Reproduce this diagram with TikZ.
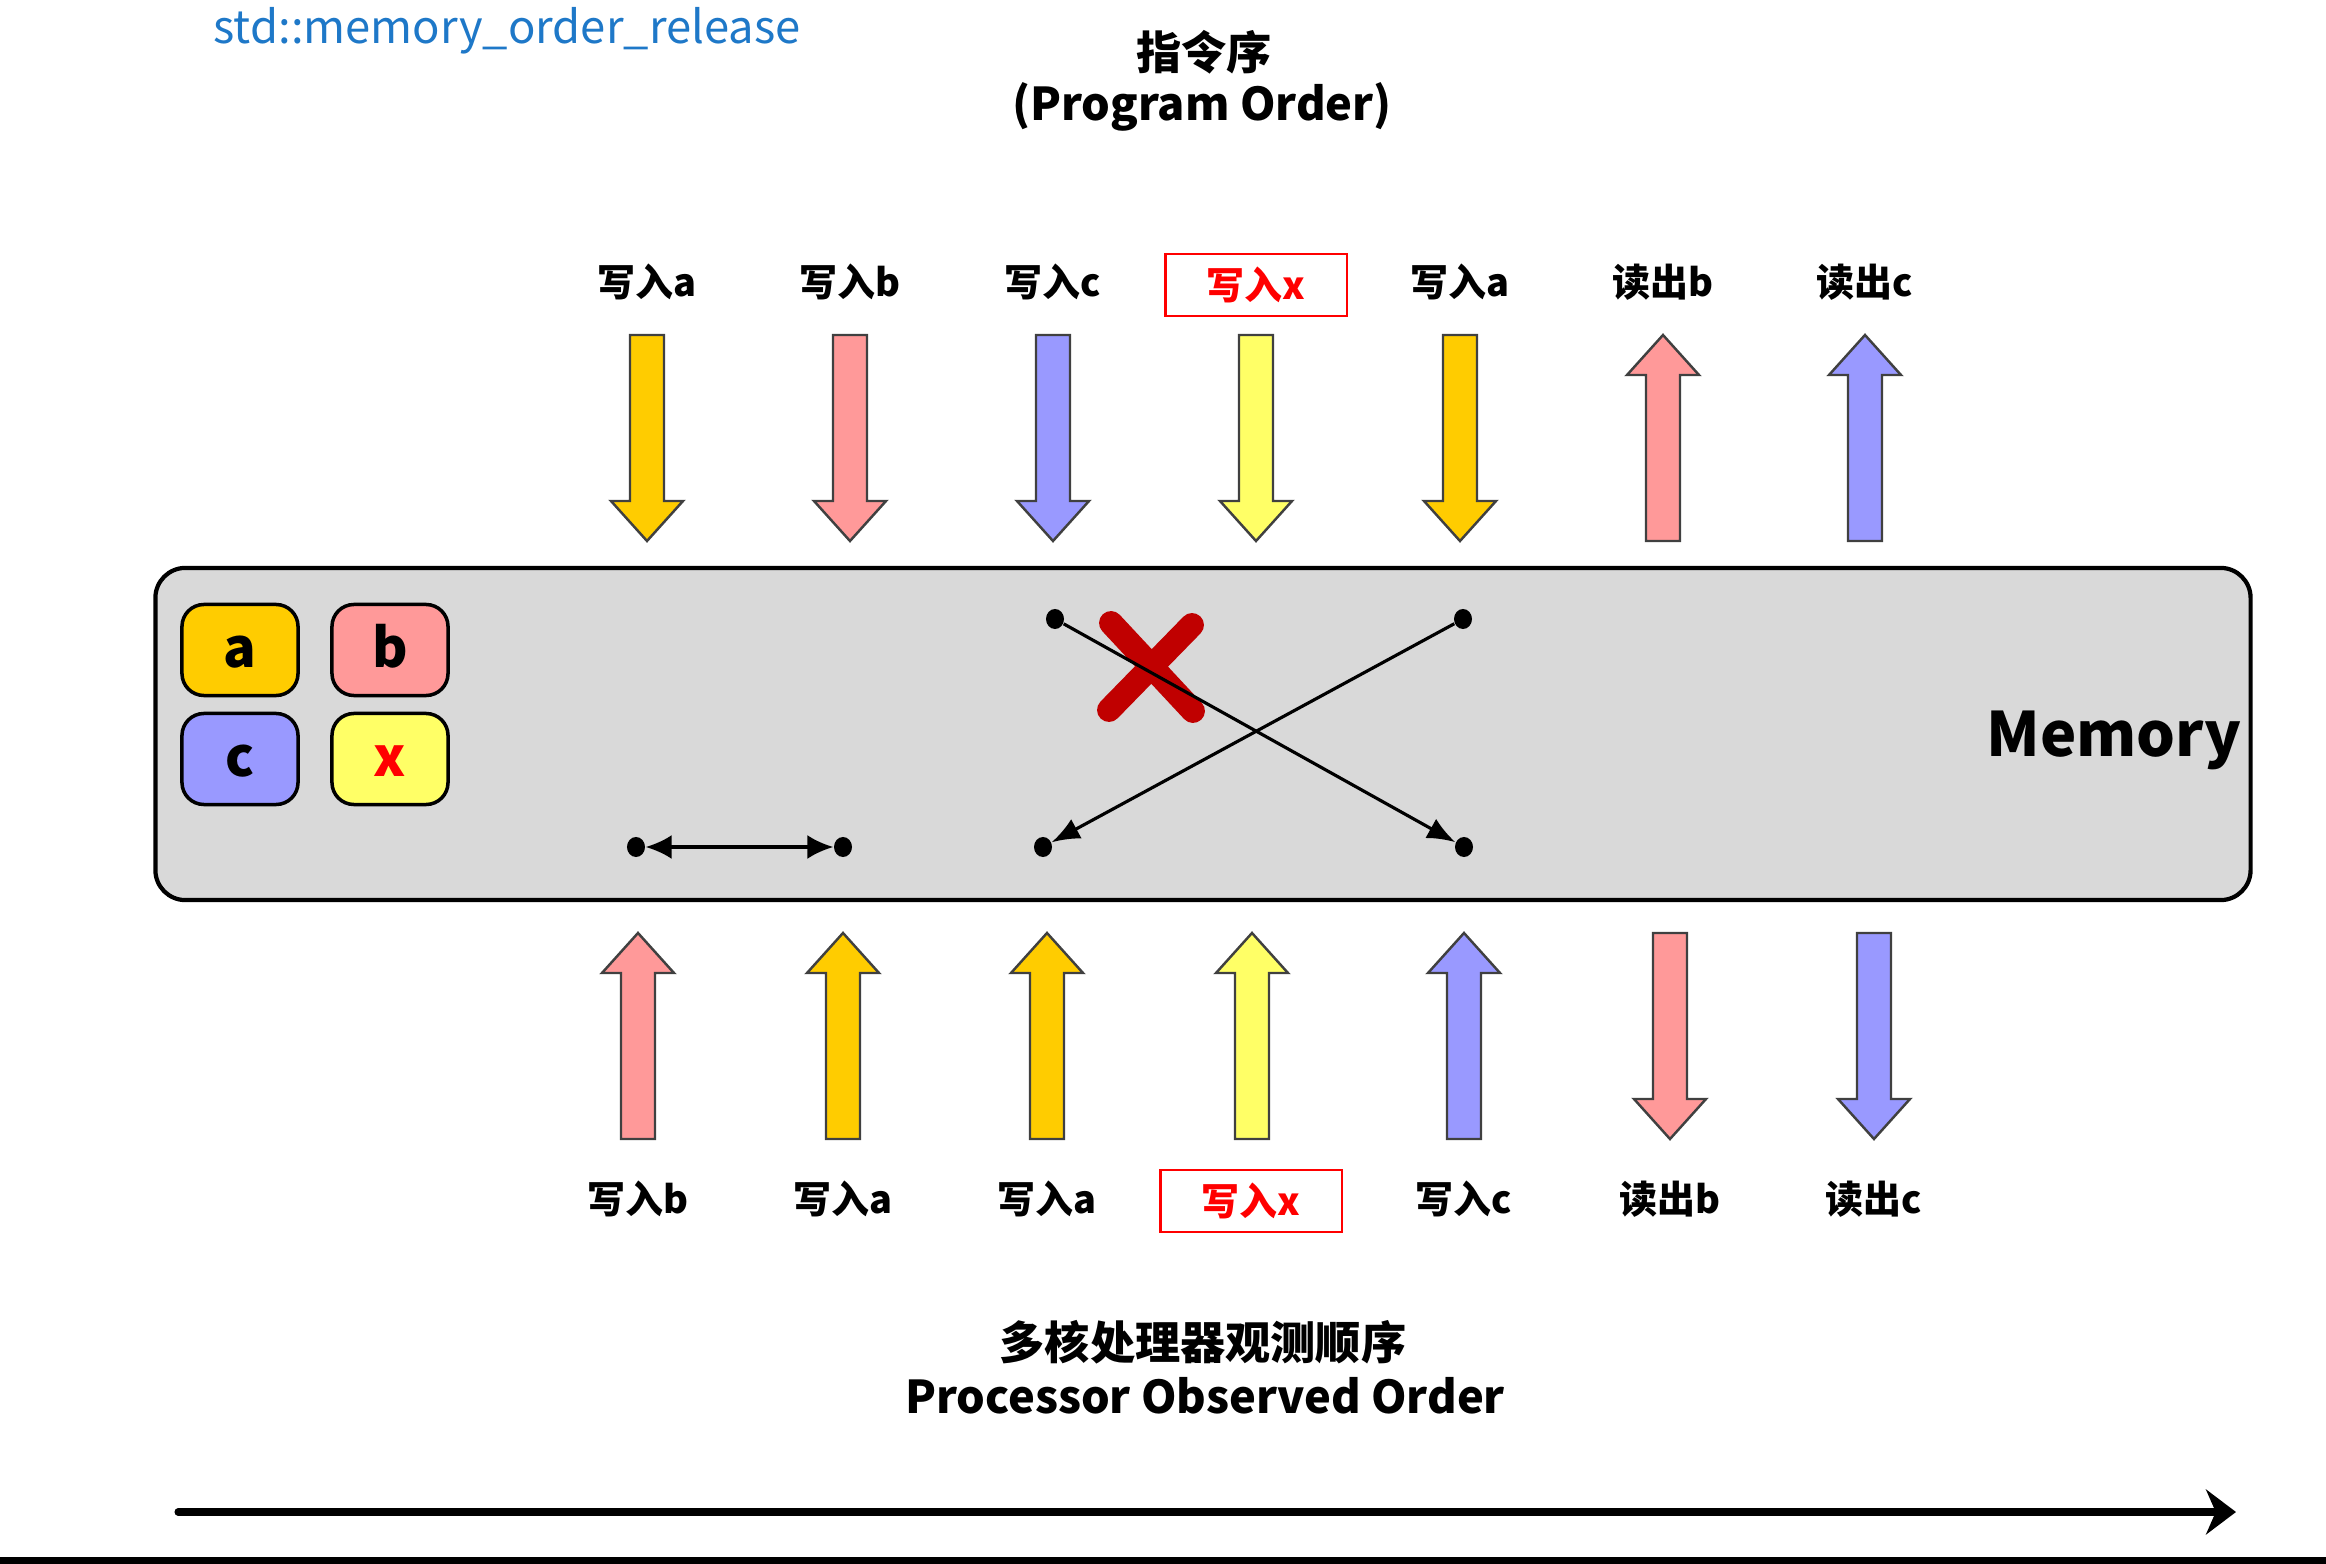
\documentclass[tikz,border=0pt]{standalone}
\usepackage{fontspec}
\setmainfont{Noto Sans CJK SC}
\usetikzlibrary{arrows.meta,shapes.geometric}
\definecolor{cA}{HTML}{FFCC00}
\definecolor{cB}{HTML}{FF9999}
\definecolor{cC}{HTML}{9999FF}
\definecolor{cX}{HTML}{FFFF66}
\definecolor{memgray}{HTML}{D9D9D9}
\definecolor{titleblue}{HTML}{1E78C8}
\definecolor{crossred}{HTML}{C00000}
\definecolor{arroutline}{HTML}{404040}
% block arrows: x, y of flat end, y of tip, colour
\newcommand\dnarr[4]{\draw[blk, fill=#4] (#1-17,#2) -- (#1+17,#2) -- (#1+17,#3-40) -- (#1+36,#3-40) -- (#1,#3) -- (#1-36,#3-40) -- (#1-17,#3-40) -- cycle;}
\newcommand\uparr[4]{\draw[blk, fill=#4] (#1-17,#2) -- (#1+17,#2) -- (#1+17,#3+40) -- (#1+36,#3+40) -- (#1,#3) -- (#1-36,#3+40) -- (#1-17,#3+40) -- cycle;}
\begin{document}
\begin{tikzpicture}[x=0.01cm,y=-0.01cm,
  lbl/.style={font=\bfseries\fontsize{10.8}{12}\selectfont, inner sep=0},
  redlbl/.style={lbl, draw=red, line width=0.6pt, minimum width=18.1mm, minimum height=6.2mm, text=red},
  var/.style={draw=black, line width=1pt, rounded corners=2.2mm, minimum width=11.6mm, minimum height=9.1mm, inner sep=0, text height=10.2pt, text depth=0pt, font=\bfseries\fontsize{15.4}{16}\selectfont},
  dot/.style={ellipse, fill=black, inner sep=0, minimum width=1.8mm, minimum height=2mm},
  blk/.style={draw=arroutline, line width=0.7pt, line join=miter},
  conn/.style={draw=black, line width=0.9pt},
  heading/.style={font=\bfseries\fontsize{12.85}{14}\selectfont, inner sep=0}
]
\useasboundingbox (0,0) rectangle (2326,1564);
\fill[white] (0,0) rectangle (2326,1564);

% titles
\node[font=\fontsize{12.9}{14}\selectfont, text=titleblue, inner sep=0] (title) at (507,31) {std::memory\_order\_release};
\node[heading] (po1) at (1204,52) {指令序};
\node[heading] (po2) at (1202,107) {(Program Order)};

% top labels
\node[lbl] (t1) at (647,282) {写入a};
\node[lbl] (t2) at (850,282) {写入b};
\node[lbl] (t3) at (1053,282) {写入c};
\node[redlbl] (t4) at (1256,285) {写入x};
\node[lbl] (t5) at (1460,282) {写入a};
\node[lbl] (t6) at (1663,282) {读出b};
\node[lbl] (t7) at (1865,282) {读出c};

% top arrows
\dnarr{647}{335}{541}{cA}
\dnarr{850}{335}{541}{cB}
\dnarr{1053}{335}{541}{cC}
\dnarr{1256}{335}{541}{cX}
\dnarr{1460}{335}{541}{cA}
\uparr{1663}{541}{335}{cB}
\uparr{1865}{541}{335}{cC}

% memory box
\node[draw=black, line width=1.2pt, fill=memgray, rounded corners=3mm, minimum width=209.4mm, minimum height=33.2mm] (mem) at (1203,734) {};
\node[font=\bfseries\fontsize{17.4}{20}\selectfont, inner sep=0] (memlbl) at (2114,740) {Memory};

% variables
\node[var, fill=cA] (va) at (240,650) {a};
\node[var, fill=cB] (vb) at (390,650) {b};
\node[var, fill=cC] (vc) at (240,759) {c};
\node[var, fill=cX, text=red] (vx) at (390,759) {x};

% red cross
\draw[crossred, line width=6.8pt, line cap=round] (1111,623) -- (1193,711) (1192,625) -- (1109,710);

% dots and connectors
\node[dot] (s1) at (636,847) {};
\node[dot] (s2) at (843,847) {};
\draw[conn, {Latex[length=2.6mm,width=2.4mm]}-{Latex[length=2.6mm,width=2.4mm]}] (s1) -- (s2);
\node[dot] (p1) at (1055,619) {};
\node[dot] (p2) at (1463,619) {};
\node[dot] (p3) at (1043,847) {};
\node[dot] (p4) at (1464,847) {};
\draw[conn, -{Latex[length=2.8mm,width=2.2mm]}] (p1) -- (p4);
\draw[conn, -{Latex[length=2.8mm,width=2.2mm]}] (p2) -- (p3);

% bottom arrows
\uparr{638}{1139}{933}{cB}
\uparr{843}{1139}{933}{cA}
\uparr{1047}{1139}{933}{cA}
\uparr{1252}{1139}{933}{cX}
\uparr{1464}{1139}{933}{cC}
\dnarr{1670}{933}{1139}{cB}
\dnarr{1874}{933}{1139}{cC}

% bottom labels
\node[lbl] (b1) at (638,1199) {写入b};
\node[lbl] (b2) at (843,1199) {写入a};
\node[lbl] (b3) at (1047,1199) {写入a};
\node[redlbl] (b4) at (1251,1201) {写入x};
\node[lbl] (b5) at (1464,1199) {写入c};
\node[lbl] (b6) at (1670,1199) {读出b};
\node[lbl] (b7) at (1874,1199) {读出c};

\node[heading] (oo1) at (1203,1342) {多核处理器观测顺序};
\node[heading] (oo2) at (1205,1396) {Processor Observed Order};

% time line
\coordinate (tl0) at (178,1512);
\coordinate (tl1) at (2236,1512);
\draw[line width=2pt, line cap=round, -{Stealth[length=3mm,width=4.5mm]}] (tl0) -- (tl1);
\fill[black] (0,1557) rectangle (2326,1564);
\end{tikzpicture}
\end{document}
